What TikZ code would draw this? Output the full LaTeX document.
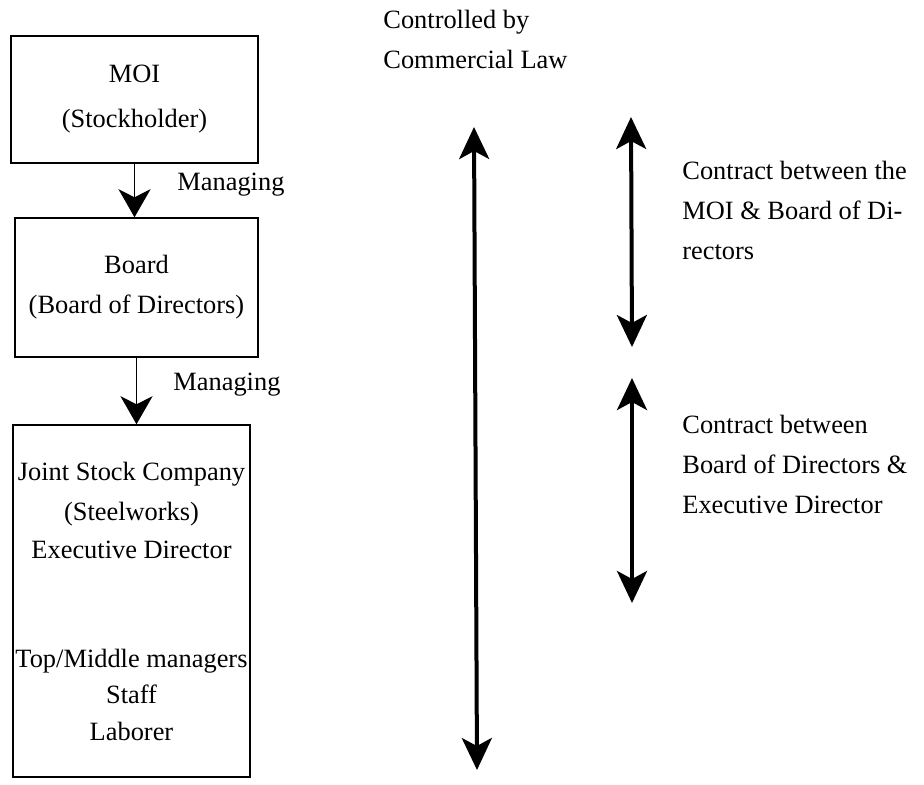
\documentclass[tikz,border=0pt]{standalone}
\usepackage{fontspec}
\setmainfont{Liberation Serif}
\usetikzlibrary{arrows.meta}
\begin{document}
\begin{tikzpicture}[x=0.5pt, y=-0.5pt, font=\fontsize{13.2}{20}\selectfont,
orgbox/.style={draw, line width=0.75pt, align=center, inner sep=0pt},
txt/.style={inner sep=0pt, align=left, anchor=west},
manage/.style={-{Stealth[length=14pt, width=16pt, inset=4pt]}, line width=0.75pt},
contract/.style={{Stealth[length=16pt, width=15pt, inset=4pt]}-{Stealth[length=16pt, width=15pt, inset=4pt]}, line width=2pt}]
\useasboundingbox (0,0) rectangle (924,784);
\node[orgbox, minimum width=123.5pt, minimum height=63.5pt] (moi) at (134.5,99.5){MOI\\[2.5pt](Stockholder)};
\node[orgbox, minimum width=121.5pt, minimum height=69.5pt] (board) at (136.5,287.5){Board\\(Board of Directors)};
\node[orgbox, minimum width=118.5pt, minimum height=176pt] (jsc) at (131.5,601){Joint Stock Company\\(Steelworks)\\[-1pt]Executive Director\\[34.5pt]Top/Middle managers\\[-2pt]Staff\\[-1.5pt]Laborer};
\draw[manage](moi.south) -- (moi.south |- board.north);
\node[txt] (manage1) at (177,185){Managing};
\draw[manage](board.south) -- (board.south |- jsc.north);
\node[txt] (manage2) at (173,385){Managing};
\node[txt] (law) at (383,39){Controlled by\\Commercial Law};
\coordinate (lawtop) at (474,127);
\coordinate (lawbot) at (477,770);
\draw[contract](lawtop) -- (lawbot);
\coordinate (moitop) at (631,117);
\coordinate (moibot) at (632,347);
\draw[contract](moitop) -- (moibot);
\node[txt] (contract1) at (682,210){Contract between the\\MOI \& Board of Di-\\rectors};
\coordinate (jsctop) at (632,378);
\coordinate (jscbot) at (632,603);
\draw[contract](jsctop) -- (jscbot);
\node[txt] (contract2) at (682,464){Contract between\\Board of Directors \&\\Executive Director};
\end{tikzpicture}
\end{document}
